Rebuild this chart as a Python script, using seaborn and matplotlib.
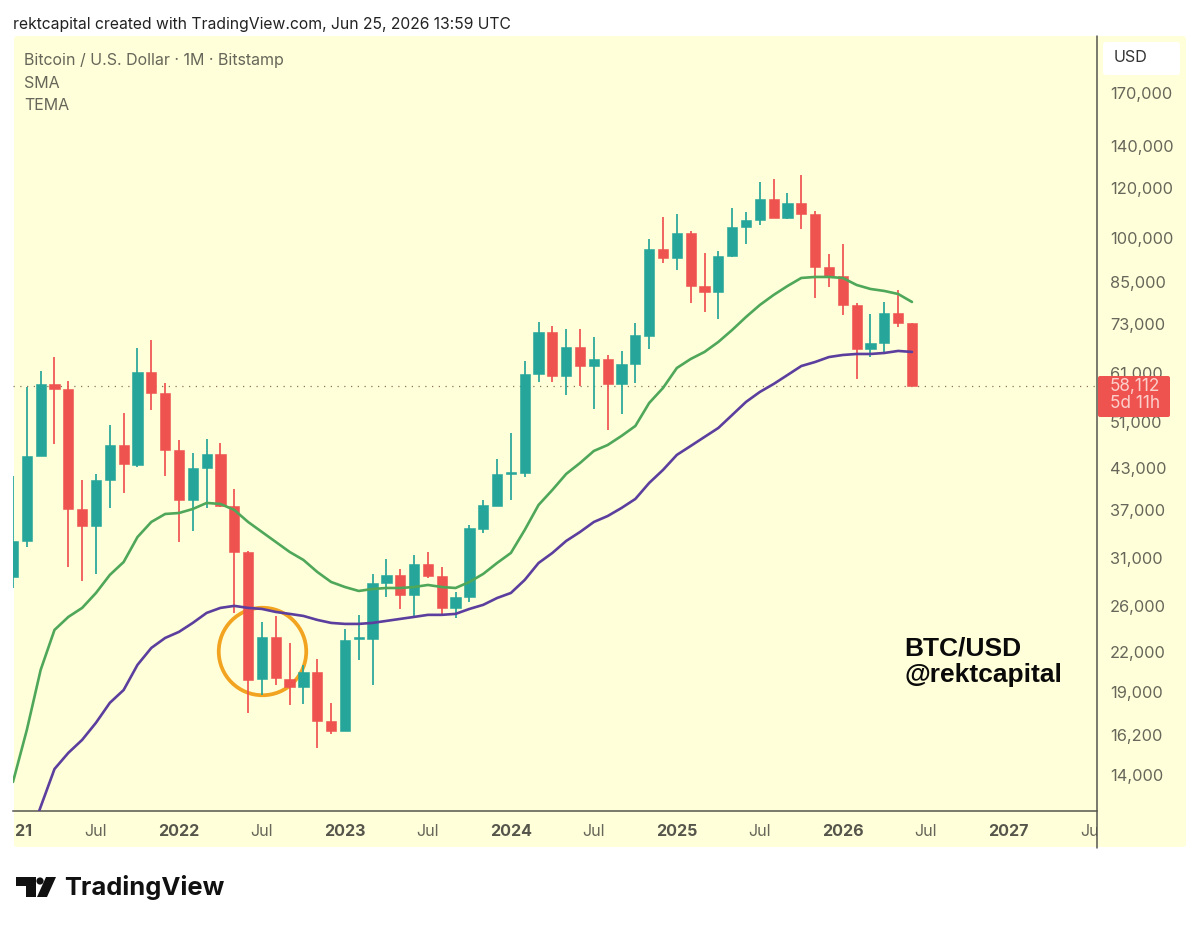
import matplotlib
matplotlib.use("Agg")
import matplotlib.pyplot as plt
import numpy as np
import pandas as pd
import seaborn as sns
from matplotlib.lines import Line2D
from matplotlib.patches import Circle, FancyBboxPatch, Polygon
from matplotlib.ticker import FixedLocator, NullLocator
from matplotlib.transforms import Bbox, IdentityTransform

# Monthly BTC/USD candles, January 2021 to June 2026
opens = [28900, 32980, 45010, 58590, 57530, 37070, 34830, 41230, 46860, 43550, 61220, 56690,
         46020, 38320, 43080, 45350, 37500, 31680, 19900, 23200, 19900, 19350, 20420, 17070,
         16450, 23030, 23030, 28280, 29120, 27060, 30310, 29010, 25810, 26860, 34450, 37480,
         42150, 42310, 60770, 70880, 60340, 67090, 62570, 64200, 58590, 63040, 69830, 96040,
         92920, 101830, 83880, 82060, 93600, 104090, 106800, 115330, 107580, 113650, 109170, 89920,
         87010, 78230, 66600, 68090, 75980, 73250]
closes = [32980, 45010, 58590, 57530, 37070, 34830, 41230, 46860, 43710, 61220, 56690, 46020,
          38320, 43080, 45350, 37500, 31680, 19830, 23200, 19970, 19350, 20420, 17070, 16450,
          22950, 23200, 28280, 29120, 27060, 30310, 29010, 25810, 26860, 34570, 37620, 42150,
          42460, 60770, 70880, 60340, 67090, 62570, 64200, 58590, 63040, 70100, 96040, 92920,
          101830, 83880, 82060, 93600, 104090, 106800, 115330, 107580, 113650, 109170, 89920, 86690,
          78230, 66600, 68090, 75980, 73250, 58112]
highs = [41830, 57940, 61440, 64660, 59240, 41230, 42150, 50420, 52690, 66840, 68830, 58810,
         47730, 45520, 47900, 47210, 39890, 31800, 24520, 25060, 22700, 20950, 21410, 18230,
         23900, 25160, 29230, 30870, 29770, 31330, 31680, 29970, 27360, 34960, 38320, 44520,
         48970, 63740, 73520, 72450, 71660, 71660, 69580, 65150, 66120, 73250, 99620, 108000,
         109180, 102590, 94650, 95340, 111600, 110000, 122750, 124100, 117890, 125930, 110380, 94320,
         97950, 78800, 75710, 79100, 82660, 73250]
lows = [27760, 32250, 45010, 47030, 29970, 28490, 29230, 37210, 39310, 43240, 53270, 41830,
        32860, 34200, 37210, 37400, 25340, 17580, 18770, 19470, 18100, 18160, 15460, 16270,
        16450, 21330, 19470, 26860, 25710, 25060, 28800, 25160, 24880, 26380, 33960, 37480,
        38320, 41700, 59030, 59030, 56270, 58160, 53470, 49510, 52490, 58810, 66600, 91240,
        88940, 78820, 76260, 74330, 93250, 97810, 104860, 107580, 107190, 103340, 80270, 83580,
        75430, 59680, 64660, 65880, 72190, 58112]

# Moving averages for the same months
sma = [13650, 16510, 20570, 23810, 24970, 25810, 27260, 29120, 30530, 33450, 35350, 36400,
       36530, 37070, 37900, 37760, 36940, 35350, 34080, 32860, 31680, 30760, 29440, 28380,
       27860, 27460, 27660, 27760, 27760, 27860, 28070, 27860, 27760, 28380, 29230, 30420,
       31560, 34330, 37620, 39750, 42150, 43870, 45850, 46860, 48440, 50240, 54650, 57740,
       62120, 64200, 65880, 68330, 71400, 74870, 78230, 81170, 83860, 86370, 86690, 86690,
       86370, 84180, 82960, 82360, 81450, 79110]
tema = [9480, 10850, 12460, 14310, 15180, 15920, 16950, 18230, 19110, 20950, 22290, 23120,
        23640, 24430, 25340, 25810, 26000, 25810, 25710, 25430, 25250, 25060, 24700, 24430,
        24340, 24340, 24430, 24610, 24790, 24970, 25160, 25160, 25250, 25710, 26100, 26760,
        27260, 28590, 30420, 31560, 32980, 34080, 35350, 36130, 37210, 38460, 40780, 42770,
        45190, 46690, 48260, 49870, 52300, 54860, 56900, 58590, 60540, 62570, 63500, 64660,
        65150, 65390, 65390, 65630, 66120, 65880]

last_price = 58112
price_ticks = [14000, 16200, 19000, 22000, 26000, 31000, 37000, 43000, 51000, 61000,
               73000, 85000, 100000, 120000, 140000, 170000]
time_tick_labels = ["2021", "Jul", "2022", "Jul", "2023", "Jul", "2024", "Jul",
                    "2025", "Jul", "2026", "Jul", "2027", "Jul"]
legend_lines = ["Bitcoin / U.S. Dollar · 1M · Bitstamp", "SMA", "TEMA"]

PANEL = "#FFFFD9"
TEAL = "#26A69A"
RED = "#EF5350"
AXIS_TEXT = "#66665A"
AXIS_LINE = "#55554F"

sns.set_theme(style="white")
plt.rcParams["font.family"] = ["Inter", "DejaVu Sans"]

W, H = 1200, 927
fig = plt.figure(figsize=(W / 100, H / 100), dpi=100, facecolor="white")
px = IdentityTransform()


def flip(y):
    return H - y


# Chart panel behind the axes, with the price scale on its right
fig.add_artist(FancyBboxPatch((14, flip(847)), 1172, 811,
                              boxstyle="round,pad=0,rounding_size=3",
                              fc=PANEL, ec="none", transform=px, zorder=-5))
fig.add_artist(FancyBboxPatch((1103, flip(75)), 77, 33,
                              boxstyle="round,pad=0,rounding_size=3",
                              fc="white", ec="none", transform=px, zorder=-4))

ax = fig.add_axes([13 / W, (H - 811) / H, (1097 - 13) / W, (811 - 36) / H])
ax.patch.set_alpha(0)
ax.set_yscale("log")
ax.set_xlim(0, (1097 - 13) / 13.83)
ax.set_ylim(12270, 209450)

frame = pd.DataFrame({"month": np.arange(len(opens)), "open": opens, "high": highs,
                      "low": lows, "close": closes, "sma": sma, "tema": tema})
rising = frame["close"] >= frame["open"]
colors = np.where(rising, TEAL, RED)

# Price reference line and the highlight ring sit behind the candles
ax.axhline(last_price, color="#8C7460", lw=0.9, ls=(0, (1, 4.4)), zorder=1)
ax.plot([18], [22050], marker="o", ms=63, mfc="none", mec="#F2A31F", mew=2.7,
        ls="none", zorder=1.5)

ax.vlines(frame["month"], frame["low"], frame["high"], colors=colors, lw=1.25, zorder=2)
body_low = frame[["open", "close"]].min(axis=1)
body_high = frame[["open", "close"]].max(axis=1)
ax.bar(frame["month"], body_high - body_low, bottom=body_low, width=0.74,
       color=colors, linewidth=0.4, edgecolor=colors, zorder=2.2)

sns.lineplot(data=frame, x="month", y="sma", color="#4FA75A", lw=1.9, ax=ax,
             estimator=None, sort=False, legend=False, zorder=3)
sns.lineplot(data=frame, x="month", y="tema", color="#5B3E9E", lw=1.9, ax=ax,
             estimator=None, sort=False, legend=False, zorder=3.1)
ax.set_xlabel("")
ax.set_ylabel("")

for side in ("top", "left", "right"):
    ax.spines[side].set_visible(False)
ax.spines["bottom"].set_color(AXIS_LINE)
ax.spines["bottom"].set_linewidth(1.1)
fig.add_artist(Line2D([1097, 1097], [flip(36), flip(848)], color=AXIS_LINE, lw=1.1,
                      transform=px, zorder=2))

# Price scale
ax.yaxis.tick_right()
ax.yaxis.set_major_locator(FixedLocator(price_ticks))
ax.yaxis.set_minor_locator(NullLocator())
ax.set_yticklabels([f"{v:,}" for v in price_ticks])
ax.tick_params(axis="y", which="both", length=0, pad=9.2, labelsize=11.8, labelcolor=AXIS_TEXT)

# Time scale, one tick every six months; labels are cut off at the chart's edges
time_ticks = np.arange(len(time_tick_labels)) * 6
ax.set_xticks(time_ticks)
ax.set_xticklabels(time_tick_labels)
ax.tick_params(axis="x", length=0, pad=9, labelsize=11.6, labelcolor=AXIS_TEXT)
clip = Bbox.from_extents(14.5, 0, 1097, H)
for label in ax.get_xticklabels():
    label.set_clip_box(clip)
    label.set_clip_on(True)
    if label.get_text() != "Jul":
        label.set_fontweight("bold")
        label.set_color("#55554C")

# Last-price tag over the scale
fig.add_artist(FancyBboxPatch((1098, flip(417)), 72, 41,
                              boxstyle="round,pad=0,rounding_size=2",
                              fc=RED, ec="none", transform=px, zorder=5))
for txt, y in ((f"{last_price:,}", 386), ("5d 11h", 404)):
    fig.text(1110, flip(y), txt, transform=px, fontsize=12.4, color="#FBD0CB",
             va="center", ha="left", zorder=6)

# Header, legend and overlay text
fig.text(13, flip(24), "rektcapital created with TradingView.com, Jun 25, 2026 13:59 UTC",
         transform=px, fontsize=11.3, color="#222222", va="center", ha="left")
for txt, y in zip(legend_lines, (60, 83, 105)):
    fig.text(24, flip(y), txt, transform=px, fontsize=11.5, color=AXIS_TEXT, va="center", ha="left")
fig.text(1114, flip(58), "USD", transform=px, fontsize=11.6, color="#333333", va="center", ha="left")
fig.text(904, flip(648), "BTC/USD", transform=px, fontsize=19, color="#0A0A0A",
         family=["Liberation Sans"], fontweight="bold", va="center", ha="left")
fig.text(904, flip(675), "@rektcapital", transform=px, fontsize=19, color="#0A0A0A",
         family=["Liberation Sans"], fontweight="bold", va="center", ha="left")

# TradingView wordmark below the chart
logo = "#111111"
fig.add_artist(Polygon([(16, flip(877)), (36, flip(877)), (36, flip(897)), (26, flip(897)),
                        (26, flip(886)), (16, flip(886))], closed=True, fc=logo, ec="none",
                       transform=px))
fig.add_artist(Circle((40, flip(881)), 3.6, fc=logo, ec="none", transform=px))
fig.add_artist(Polygon([(46, flip(877)), (56, flip(877)), (47, flip(897)), (37, flip(897))],
                       closed=True, fc=logo, ec="none", transform=px))
fig.text(64, flip(888), "TradingView", transform=px, fontsize=18.4, color=logo,
         fontweight="bold", va="center", ha="left")

fig.savefig("out.png", dpi=100, facecolor="white")
